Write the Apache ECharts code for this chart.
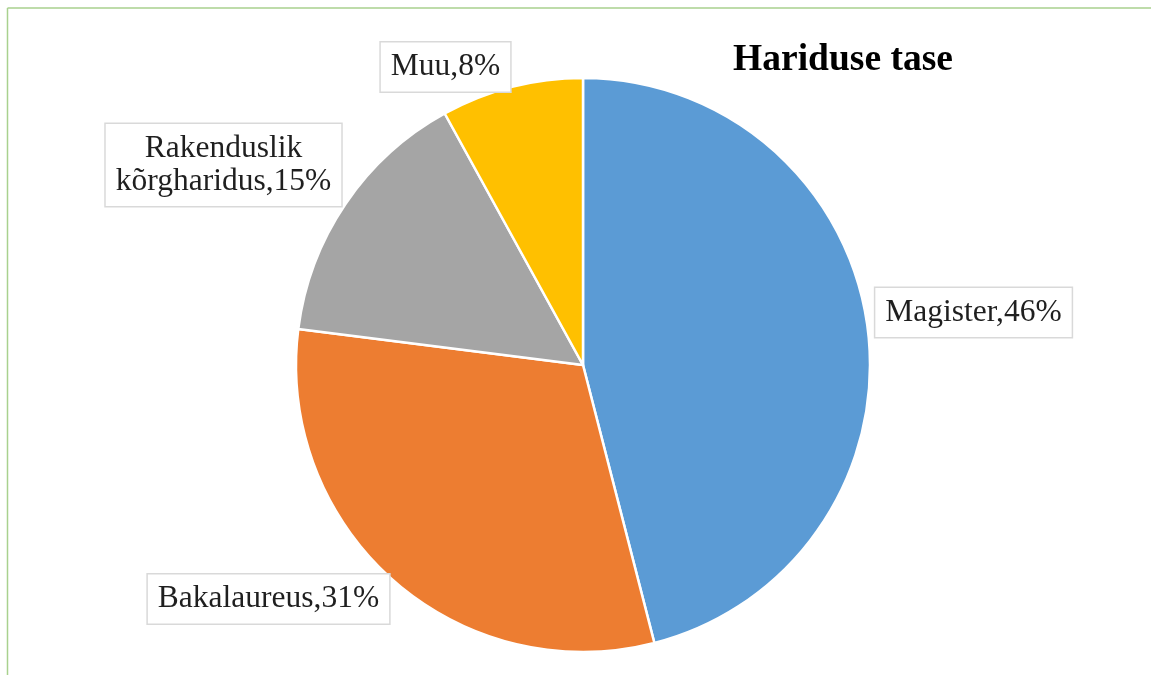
<!DOCTYPE html>
<html>
<head>
<meta charset="utf-8">
<script src="https://cdn.jsdelivr.net/npm/echarts@6/dist/echarts.min.js"></script>
<style>
html,body{margin:0;padding:0;background:#fff;}
#chart{width:1151px;height:675px;}
</style>
</head>
<body>
<div id="chart"></div>
<script>
const categories = ['Magister', 'Bakalaureus', 'Rakenduslik kõrgharidus', 'Muu'];
const values = [46, 31, 15, 8];
const colors = ['#5B9BD5', '#ED7D31', '#A5A5A5', '#FFC000'];
const titleText = 'Hariduse tase';

const labelSpots = [[973.5, 312.5], [268.5, 599], [223.5, 165], [445.5, 67]];

const chart = echarts.init(document.getElementById('chart'));
chart.setOption({
  animation: false,
  backgroundColor: '#ffffff',
  title: {
    text: titleText,
    left: 838,
    top: 36,
    textAlign: 'center',
    textStyle: {fontFamily: 'Liberation Serif', fontWeight: 'bold', fontSize: 37.5, color: '#000000'}
  },
  graphic: [
    {type: 'line', shape: {x1: 7.5, y1: 8, x2: 1151, y2: 8}, style: {stroke: '#A9D18E', lineWidth: 1.5}},
    {type: 'line', shape: {x1: 7.5, y1: 8, x2: 7.5, y2: 675}, style: {stroke: '#A9D18E', lineWidth: 1.5}}
  ],
  series: [{
    type: 'pie',
    center: [583, 365],
    radius: 287,
    startAngle: 90,
    clockwise: true,
    data: categories.map((c, i) => ({name: c, value: values[i], itemStyle: {color: colors[i]}})),
    itemStyle: {borderColor: '#ffffff', borderWidth: 2.5},
    label: {
      show: true,
      position: 'outside',
      formatter: p => p.name.replace(' ', '\n') + ',' + p.value + '%',
      fontFamily: 'Liberation Serif',
      fontSize: 31.5,
      lineHeight: 33,
      color: '#1f1f1f',
      backgroundColor: '#ffffff',
      borderColor: '#D9D9D9',
      borderWidth: 1.5,
      padding: [8, 10, 8, 10],
      align: 'center'
    },
    labelLine: {show: false},
    labelLayout: p => ({x: labelSpots[p.dataIndex][0], y: labelSpots[p.dataIndex][1], align: 'center', verticalAlign: 'middle'})
  }]
});
</script>
</body>
</html>
